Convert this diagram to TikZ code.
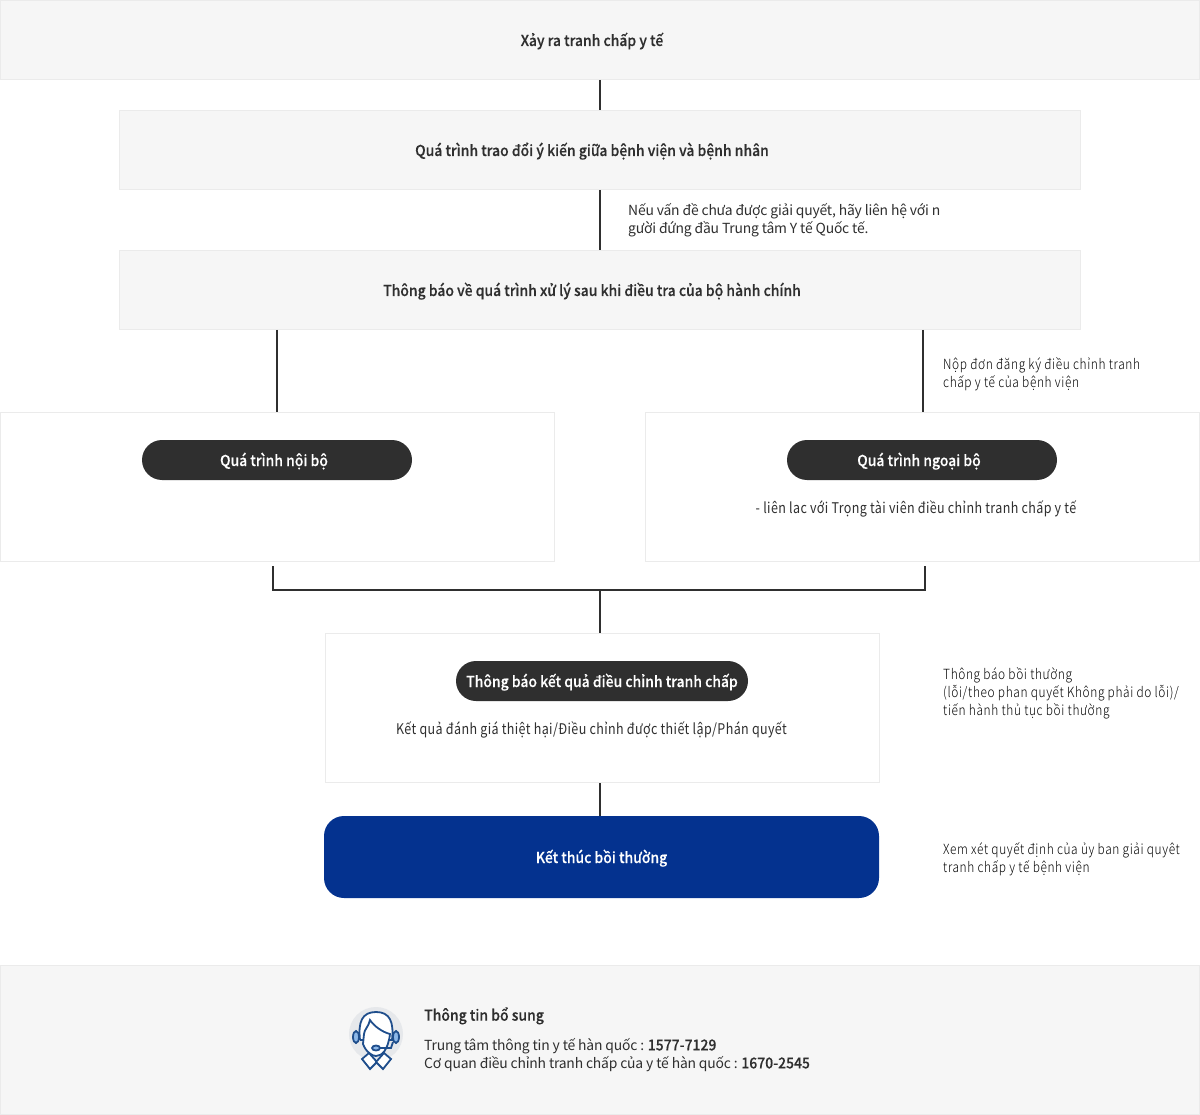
\documentclass[tikz,border=0pt]{standalone}
\usepackage{fontspec}
\setmainfont[LetterSpace=-1.5,BoldFont={Noto Sans CJK KR Medium},BoldFeatures={FakeStretch=0.93,LetterSpace=0,FakeBold=0.25}]{Noto Sans CJK KR}
\newfontfamily\narrowfont[FakeStretch=0.85,LetterSpace=2.7]{Noto Sans CJK KR}
\newfontfamily\thinfont[FakeStretch=0.85,LetterSpace=4.4]{Noto Sans CJK KR Light}
\usepackage{xcolor}
\usetikzlibrary{positioning}
\definecolor{cBar}{HTML}{F6F6F6}
\definecolor{cEdge}{HTML}{EBEBEB}
\definecolor{cDark}{HTML}{2F2F2F}
\definecolor{cBlue}{HTML}{04328F}
\definecolor{cIcon}{HTML}{1F4E8C}
\definecolor{cEar}{HTML}{8DB8E8}
\definecolor{cHalo}{HTML}{E6E8EB}
\newcommand{\sz}[1]{\fontsize{#1}{18}\selectfont}
\newcommand{\lowtxt}[1]{\raisebox{-6pt}[0pt][0pt]{#1}}
\begin{document}
\begin{tikzpicture}[
  x=1pt,y=-1pt,
  font=\sz{15},text=cDark,
  bar/.style={draw=cEdge,line width=1pt,fill=cBar,minimum height=79pt,inner sep=0pt,align=center,font=\sz{15}\bfseries},
  card/.style={draw=cEdge,line width=1pt,fill=white,minimum width=554pt,minimum height=149pt,inner sep=0pt},
  pill/.style={fill=cDark,rounded corners=20pt,minimum height=40pt,inner sep=0pt,text=white,font=\sz{15}\bfseries},
  note/.style={align=left,anchor=north west,inner sep=0pt,font=\sz{13.9}},
  slim/.style={align=left,anchor=north west,inner sep=0pt,text=black,font=\thinfont\sz{14}},
  ln/.style={draw=cDark,line width=2pt}
]
\useasboundingbox (0,0) rectangle (1200,1115);
% top bars
\node[bar,minimum width=1199pt] (start) at (600,40) {\lowtxt{Xảy ra tranh chấp y tế}\hspace*{16pt}};
\node[bar,minimum width=961pt,below=30pt of start] (talk) {\lowtxt{Quá trình trao đổi ý kiến giữa bệnh viện và bệnh nhân}\hspace*{16pt}};
\node[bar,minimum width=961pt,below=60pt of talk] (notice) {\lowtxt{Thông báo về quá trình xử lý sau khi điều tra của bộ hành chính}\hspace*{16pt}};
\node[note] (n1) at (628,203) {Nếu vấn đề chưa được giải quyết, hãy liên hệ với n\\gười đứng đầu Trung tâm Y tế Quốc tế.};
% two process cards
\node[card] (inner) at (277.5,487) {};
\node[card] (outer) at (922.5,487) {};
\node[pill,minimum width=270pt] (p1) at (277,460) {\lowtxt{Quá trình nội bộ}\hspace*{6pt}};
\node[pill,minimum width=270pt] (p2) at (922,460) {\lowtxt{Quá trình ngoại bộ}\hspace*{6pt}};
\node[font=\narrowfont\sz{14.7},inner sep=0pt] (t2) at (916,509) {- liên lac với Trọng tài viên điều chỉnh tranh chấp y tế};
\node[slim] (n2) at (943,357) {Nộp đơn đăng ký điều chỉnh tranh\\chấp y tế của bệnh viện};
% merged result
\node[card] (result) at (602.5,708) {};
\node[pill,minimum width=292pt] (p3) at (602,681) {\lowtxt{Thông báo kết quả điều chỉnh tranh chấp}};
\node[font=\narrowfont\sz{14.7},inner sep=0pt] (t3) at (591.5,730) {Kết quả đánh giá thiệt hại/Điều chỉnh được thiết lập/Phán quyết};
\node[slim] (n3) at (943,667) {Thông báo bồi thường\\(lỗi/theo phan quyết Không phải do lỗi)/\\tiến hành thủ tục bồi thường};
\node[fill=cBlue,rounded corners=20pt,minimum width=555pt,minimum height=82pt,inner sep=0pt,text=white,font=\sz{15}\bfseries] (end) at (601.5,857) {\lowtxt{Kết thúc bồi thường}};
\node[slim] (n4) at (943,842) {Xem xét quyết định của ủy ban giải quyêt\\tranh chấp y tế bệnh viện};
% connectors
\coordinate (c1) at (273,566);
\coordinate (c2) at (925,566);
\coordinate (c3) at (600,590);
\draw[ln] (start.south-|c3) -- (talk.north-|c3);
\draw[ln] (talk.south-|c3) -- (notice.north-|c3);
\draw[ln] (notice.south-|p1) -- (inner.north-|p1);
\draw[ln] (notice.south-|outer) -- (outer.north);
\draw[ln] (c1) |- (c3) -| (c2);
\draw[ln] (c3) -- (result.north-|c3);
\draw[ln] (result.south-|c3) -- (end.north-|c3);
% footer
\node[fill=cBar,draw=cEdge,line width=1pt,minimum width=1199pt,minimum height=149pt,inner sep=0pt] (foot) at (600,1040) {};
\node[note,font=\sz{15}] (f1) at (424,1007) {\bfseries Thông tin bổ sung};
\node[note,font=\sz{13.9}] (f2) at (424,1038) {Trung tâm thông tin y tế hàn quốc : \textbf{\sz{15}1577-7129}\\Cơ quan điều chỉnh tranh chấp của y tế hàn quốc : \textbf{\sz{15}1670-2545}};
% headset icon
\fill[cHalo] (376,1034) circle (27);
\fill[cEar,draw=cIcon,line width=1.8pt] (356,1037) ellipse (3 and 6);
\fill[cEar,draw=cIcon,line width=1.8pt] (396,1037) ellipse (3 and 6);
\filldraw[fill=white,draw=cIcon,line width=1.8pt] (360,1040) .. controls (358,1022) and (362,1012) .. (376,1012) .. controls (390,1012) and (394,1022) .. (392,1040) -- (360,1040);
\filldraw[fill=white,draw=cIcon,line width=1.8pt] (363,1044) .. controls (366,1052) and (372,1056) .. (376,1056) .. controls (382,1056) and (388,1050) .. (390,1034) .. controls (382,1032) and (374,1026) .. (370,1020) .. controls (369,1026) and (364,1030) .. (364,1034) -- cycle;
\draw[cIcon,line width=1.8pt] (377,1048) -- (391,1048) -- (393,1042);
\filldraw[fill=cEar,draw=cIcon,line width=1.8pt] (376,1048) ellipse (4 and 2.5);
\filldraw[fill=white,draw=cIcon,line width=1.8pt] (362,1059) -- (369,1053) -- (377,1062) -- (370,1069) -- cycle;
\filldraw[fill=white,draw=cIcon,line width=1.8pt] (391,1059) -- (384,1053) -- (376,1062) -- (383,1069) -- cycle;
\end{tikzpicture}
\end{document}
